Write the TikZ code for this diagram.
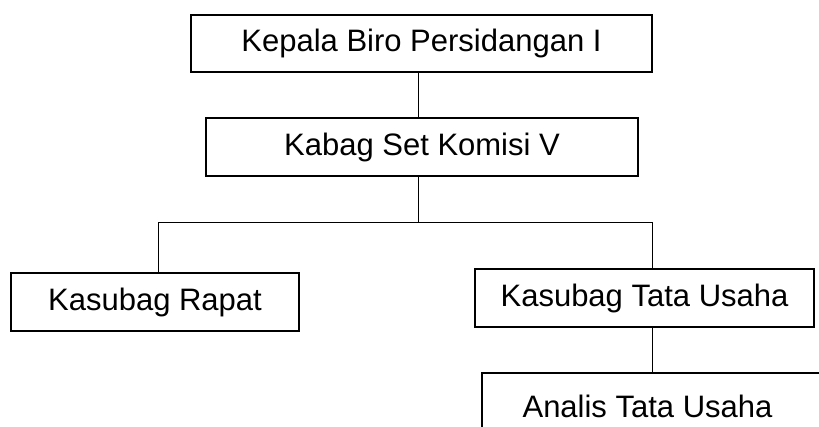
\documentclass[tikz,border=0pt]{standalone}
\usepackage{fontspec}
\setmainfont{Liberation Sans}
\begin{document}
\begin{tikzpicture}[x=1pt,y=-1pt,
  box/.style={draw=black, line width=1.6pt, rectangle, inner sep=0pt, outer sep=0pt,
    font=\fontsize{31}{36}\selectfont},
  lbl/.style={inner sep=0pt, font=\fontsize{31}{36}\selectfont},
  conn/.style={draw=black, line width=1pt}]
\useasboundingbox (0,0) rectangle (819,426);
\clip (0,0) rectangle (819,426);
\node[box, minimum width=461pt, minimum height=57pt] (b1) at (421.5,43.5) {Kepala Biro Persidangan I};
\node[box, minimum width=432pt, minimum height=58pt] (b2) at (422,147) {Kabag Set Komisi V};
\node[box, minimum width=288pt, minimum height=58pt] (b3) at (155,302) {Kasubag Rapat};
\node[box, minimum width=339pt, minimum height=58pt] (b4) at (644.5,298) {Kasubag Tata Usaha};
\node[box, minimum width=360pt, minimum height=64pt, anchor=north west] (b5) at (482,373) {};
\node[lbl] (t5) at (647.5,406) {Analis Tata Usaha};
\coordinate (c1) at (418,0);
\coordinate (j) at (418,222);
\coordinate (jl) at (158,222);
\coordinate (jr) at (652,222);
\draw[conn] (b1.south -| c1) -- (b2.north -| c1);
\draw[conn] (b2.south -| j) -- (j);
\draw[conn] (b3.north -| jl) |- (jr) -- (b4.north -| jr);
\draw[conn] (b4.south -| jr) -- (b5.north -| jr);
\end{tikzpicture}
\end{document}
